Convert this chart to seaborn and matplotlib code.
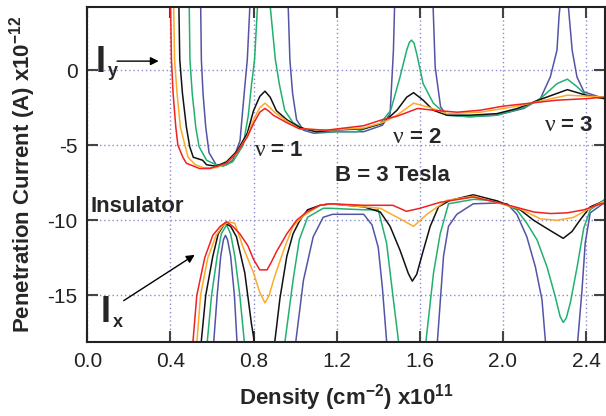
import numpy as np
import pandas as pd
import matplotlib
matplotlib.use('Agg')
import matplotlib.pyplot as plt
import seaborn as sns

# ---- data (density x1e11 cm^-2, current x1e-12 A) ----
# upper family: I_y
iy_red_x = [0.400, 0.405, 0.413, 0.426, 0.436, 0.46, 0.477, 0.54, 0.59, 0.67, 0.72, 0.77, 0.80, 0.83, 0.855, 0.875, 0.895, 0.96, 1.02, 1.15, 1.33, 1.42, 1.49, 1.59, 1.665, 1.78, 1.89, 2.0, 2.13, 2.26, 2.40, 2.49]
iy_red_y = [5.0, 0.7, -1.55, -3.8, -5.0, -5.8, -6.2, -6.55, -6.55, -6.2, -5.5, -4.45, -3.55, -2.8, -2.55, -2.75, -3.0, -3.5, -3.9, -4.0, -3.7, -3.3, -3.07, -2.55, -2.67, -2.8, -2.67, -2.4, -2.2, -2.0, -1.9, -1.8]

iy_orange_x = [0.415, 0.42, 0.432, 0.448, 0.485, 0.52, 0.56, 0.62, 0.67, 0.72, 0.77, 0.80, 0.83, 0.855, 0.88, 0.90, 0.96, 1.02, 1.15, 1.33, 1.42, 1.49, 1.57, 1.65, 1.73, 1.89, 2.07, 2.20, 2.31, 2.40, 2.49]
iy_orange_y = [5.0, 0.7, -1.55, -3.8, -5.8, -6.3, -6.5, -6.5, -6.2, -5.5, -4.4, -3.3, -2.5, -2.2, -2.5, -2.8, -3.4, -3.9, -4.0, -3.85, -3.5, -3.0, -2.2, -2.5, -2.9, -2.8, -2.4, -2.0, -1.67, -1.73, -1.8]

iy_black_x = [0.44, 0.445, 0.458, 0.477, 0.493, 0.51, 0.555, 0.574, 0.62, 0.67, 0.72, 0.77, 0.80, 0.83, 0.855, 0.88, 0.91, 0.96, 1.02, 1.1, 1.17, 1.33, 1.42, 1.49, 1.537, 1.57, 1.616, 1.665, 1.73, 1.84, 1.97, 2.07, 2.18, 2.31, 2.40, 2.49]
iy_black_y = [5.0, 0.7, -1.55, -3.8, -5.1, -5.8, -6.0, -6.3, -6.4, -6.1, -5.4, -4.2, -2.7, -1.75, -1.4, -1.8, -2.7, -3.3, -3.8, -4.1, -4.0, -3.9, -3.55, -2.67, -1.8, -1.5, -2.0, -2.67, -3.0, -3.0, -2.9, -2.55, -1.95, -1.3, -1.67, -1.9]

iy_green_x = [0.49, 0.494, 0.505, 0.522, 0.538, 0.574, 0.62, 0.653, 0.70, 0.75, 0.775, 0.79, 0.805, 0.822, 0.875, 0.905, 0.925, 0.95, 0.99, 1.04, 1.1, 1.17, 1.295, 1.41, 1.46, 1.505, 1.537, 1.55, 1.56, 1.572, 1.585, 1.616, 1.665, 1.73, 1.84, 1.97, 2.10, 2.18, 2.26, 2.31, 2.356, 2.40, 2.49]
iy_green_y = [5.0, 0.7, -1.55, -3.8, -5.1, -6.0, -6.3, -6.4, -6.1, -5.0, -3.0, -1.0, 0.7, 5.0, 5.0, 0.7, -1.0, -2.67, -3.5, -3.9, -4.1, -4.1, -4.1, -3.55, -2.67, -0.45, 1.33, 1.85, 2.0, 1.8, 1.1, -0.9, -2.2, -3.0, -3.1, -3.0, -2.5, -1.9, -0.9, -0.6, -1.1, -1.67, -1.9]

iy_blue_x = [0.545, 0.549, 0.557, 0.57, 0.586, 0.62, 0.67, 0.70, 0.735, 0.755, 0.77, 0.785, 0.965, 0.975, 0.988, 1.007, 1.04, 1.09, 1.2, 1.33, 1.42, 1.457, 1.473, 1.48, 1.662, 1.674, 1.70, 1.73, 1.84, 1.97, 2.10, 2.18, 2.228, 2.26, 2.27, 2.28, 2.31, 2.333, 2.356, 2.39, 2.49]
iy_blue_y = [5.0, 0.7, -1.55, -3.8, -5.5, -6.3, -6.3, -6.0, -4.7, -1.55, 0.7, 5.0, 5.0, 0.67, -1.55, -3.3, -4.0, -4.2, -4.1, -4.1, -3.67, -2.9, 1.3, 5.0, 5.0, 0.2, -2.45, -3.0, -3.1, -3.0, -2.55, -1.9, -0.45, 1.33, 3.6, 5.0, 5.0, 1.33, -0.45, -1.45, -1.9]

# lower family: I_x
ix_red_x = [0.505, 0.509, 0.527, 0.565, 0.604, 0.64, 0.67, 0.70, 0.734, 0.773, 0.80, 0.83, 0.865, 0.885, 0.91, 0.96, 1.007, 1.055, 1.12, 1.17, 1.33, 1.41, 1.47, 1.536, 1.60, 1.698, 1.857, 1.987, 2.083, 2.15, 2.23, 2.31, 2.39, 2.47, 2.49]
ix_red_y = [-19.0, -18.0, -15.0, -12.5, -11.0, -10.4, -10.1, -10.4, -10.9, -11.7, -12.6, -13.3, -13.3, -12.8, -12.1, -10.9, -10.0, -9.45, -9.0, -8.9, -9.0, -9.0, -9.0, -9.4, -9.2, -8.8, -8.45, -8.85, -9.2, -9.45, -9.55, -9.5, -9.3, -8.9, -8.9]

ix_orange_x = [0.524, 0.528, 0.545, 0.58, 0.62, 0.65, 0.68, 0.71, 0.75, 0.80, 0.83, 0.855, 0.875, 0.90, 0.95, 0.99, 1.04, 1.12, 1.17, 1.33, 1.41, 1.505, 1.57, 1.634, 1.73, 1.86, 2.083, 2.18, 2.26, 2.34, 2.405, 2.49]
ix_orange_y = [-19.0, -18.0, -15.0, -12.5, -11.0, -10.4, -10.1, -10.2, -11.8, -13.5, -14.8, -15.5, -15.0, -13.8, -11.8, -10.4, -9.7, -9.0, -8.9, -9.1, -9.2, -9.9, -10.4, -9.6, -8.67, -8.4, -9.25, -9.9, -10.0, -9.8, -9.3, -8.7]

ix_black_x = [0.545, 0.549, 0.57, 0.604, 0.63, 0.662, 0.69, 0.718, 0.758, 0.79, 0.803, 0.807, 0.898, 0.903, 0.927, 0.96, 0.99, 1.023, 1.06, 1.12, 1.17, 1.33, 1.41, 1.457, 1.505, 1.545, 1.564, 1.585, 1.617, 1.65, 1.69, 1.746, 1.857, 1.97, 2.083, 2.148, 2.212, 2.29, 2.332, 2.37, 2.42, 2.49]
ix_black_y = [-19.0, -18.0, -15.0, -12.4, -10.9, -10.2, -10.4, -11.1, -13.5, -16.9, -18.0, -19.0, -19.0, -18.0, -15.2, -12.4, -10.9, -10.0, -9.3, -9.0, -8.9, -9.1, -9.45, -10.4, -12.0, -13.55, -14.05, -13.6, -12.0, -10.4, -9.1, -8.67, -8.3, -8.7, -9.3, -10.0, -10.55, -11.2, -10.75, -10.0, -9.1, -8.7]

ix_green_x = [0.574, 0.578, 0.598, 0.625, 0.645, 0.67, 0.69, 0.71, 0.734, 0.755, 0.76, 0.948, 0.952, 0.99, 1.02, 1.06, 1.135, 1.17, 1.33, 1.40, 1.44, 1.473, 1.497, 1.50, 1.627, 1.63, 1.666, 1.698, 1.738, 1.778, 1.86, 1.97, 2.067, 2.115, 2.164, 2.212, 2.252, 2.275, 2.29, 2.305, 2.324, 2.357, 2.389, 2.42, 2.49]
ix_green_y = [-19.0, -18.0, -15.0, -12.4, -10.9, -10.3, -10.9, -12.4, -15.0, -18.0, -19.0, -19.0, -18.0, -14.0, -11.3, -9.8, -9.2, -9.2, -9.3, -9.3, -11.5, -15.3, -18.0, -19.0, -19.0, -18.0, -13.5, -10.9, -8.9, -8.8, -8.6, -8.7, -9.3, -10.2, -11.3, -13.1, -15.1, -16.4, -16.8, -16.5, -15.5, -13.1, -10.5, -9.3, -8.6]

ix_blue_x = [0.605, 0.609, 0.625, 0.642, 0.655, 0.665, 0.675, 0.69, 0.708, 0.72, 0.725, 1.0, 1.004, 1.04, 1.087, 1.135, 1.18, 1.33, 1.37, 1.40, 1.42, 1.44, 1.445, 1.68, 1.685, 1.714, 1.738, 1.778, 1.857, 1.97, 2.02, 2.067, 2.115, 2.156, 2.188, 2.204, 2.21, 2.355, 2.36, 2.38, 2.396, 2.42, 2.49]
ix_blue_y = [-19.0, -18.0, -15.0, -12.4, -11.3, -11.0, -11.3, -12.4, -15.0, -18.0, -19.0, -19.0, -18.0, -14.0, -11.1, -9.8, -9.6, -9.6, -10.3, -11.8, -14.5, -18.0, -19.0, -19.0, -18.0, -12.4, -10.4, -9.6, -8.9, -8.85, -8.9, -9.6, -11.1, -13.1, -15.3, -18.0, -19.0, -19.0, -18.0, -14.7, -11.5, -9.5, -8.8]

x_ticks = [0.0, 0.4, 0.8, 1.2, 1.6, 2.0, 2.4]
y_ticks = [0, -5, -10, -15]

colors = {'blue': '#5454a6', 'green': '#22b070', 'black': '#111111',
          'orange': '#fdaa2a', 'red': '#ee2222'}

series = [
    ('blue', iy_blue_x, iy_blue_y), ('green', iy_green_x, iy_green_y),
    ('black', iy_black_x, iy_black_y), ('orange', iy_orange_x, iy_orange_y),
    ('red', iy_red_x, iy_red_y),
    ('blue', ix_blue_x, ix_blue_y), ('green', ix_green_x, ix_green_y),
    ('black', ix_black_x, ix_black_y), ('orange', ix_orange_x, ix_orange_y),
    ('red', ix_red_x, ix_red_y),
]

sns.set_style('ticks')
plt.rcParams['font.family'] = ['Liberation Sans', 'DejaVu Sans']
plt.rcParams['axes.unicode_minus'] = False
plt.rcParams['mathtext.fontset'] = 'custom'
plt.rcParams['mathtext.rm'] = 'Liberation Sans:bold'
plt.rcParams['mathtext.bf'] = 'Liberation Sans:bold'
plt.rcParams['mathtext.it'] = 'Liberation Sans:bold'

fig, ax = plt.subplots(figsize=(6.06, 4.16), dpi=100)
fig.subplots_adjust(left=0.144, right=0.998, bottom=0.178, top=0.983)

for name, xs, ys in series:
    df = pd.DataFrame({'x': xs, 'y': ys})
    sns.lineplot(data=df, x='x', y='y', ax=ax, color=colors[name], lw=1.1,
                 estimator=None, sort=False)

ax.set_xlim(0, 2.49)
ax.set_ylim(-18.1, 4.2)
ax.set_xticks(x_ticks)
ax.set_xticklabels([f'{v:.1f}' for v in x_ticks])
ax.set_yticks(y_ticks)
ax.set_yticklabels([str(v) for v in y_ticks])
ax.grid(True, color='#8a8ad0', linestyle=(0, (1, 2)), lw=1)
ax.tick_params(direction='in', length=8, width=1.5, color='#444444',
               top=True, right=True, labelsize=15, pad=7, labelcolor='#222222')
for s in ax.spines.values():
    s.set_linewidth(1.5)
    s.set_color('#222222')

ax.set_xlabel(r'Density (cm$^{-2}$) x10$^{11}$', fontsize=16, fontweight='bold', labelpad=8)
ax.set_ylabel(r'Penetration Current (A) x10$^{-12}$', fontsize=16, fontweight='bold', labelpad=7)

# annotations
ax.text(0.040, -0.13, 'I', fontsize=26, fontweight='bold', ha='left', va='baseline')
ax.text(0.100, -0.40, 'y', fontsize=13, fontweight='bold', ha='left', va='baseline')
ax.annotate('', xy=(0.357, 0.6), xytext=(0.13, 0.6),
            arrowprops=dict(arrowstyle='-|>', color='black', lw=1, mutation_scale=12))
ax.text(0.066, -16.8, 'I', fontsize=26, fontweight='bold', ha='left', va='baseline')
ax.text(0.121, -17.13, 'x', fontsize=13, fontweight='bold', ha='left', va='baseline')
ax.annotate('', xy=(0.528, -12.2), xytext=(0.164, -15.45),
            arrowprops=dict(arrowstyle='-|>', color='black', lw=1, mutation_scale=12))

ax.text(0.015, -9.47, 'Insulator', fontsize=16, fontweight='bold', va='baseline')
ax.text(1.19, -7.4, 'B = 3 Tesla', fontsize=16, fontweight='bold', va='baseline')
for nx, ex, yb, lab in [(0.807, 0.883, -5.73, '= 1'), (1.471, 1.553, -4.83, '= 2'),
                         (2.204, 2.281, -4.07, '= 3')]:
    ax.text(nx, yb, '\u03bd', fontsize=17, family='Liberation Serif', va='baseline')
    ax.text(ex, yb, lab, fontsize=16, fontweight='bold', va='baseline')

fig.savefig('out.png', dpi=100)
